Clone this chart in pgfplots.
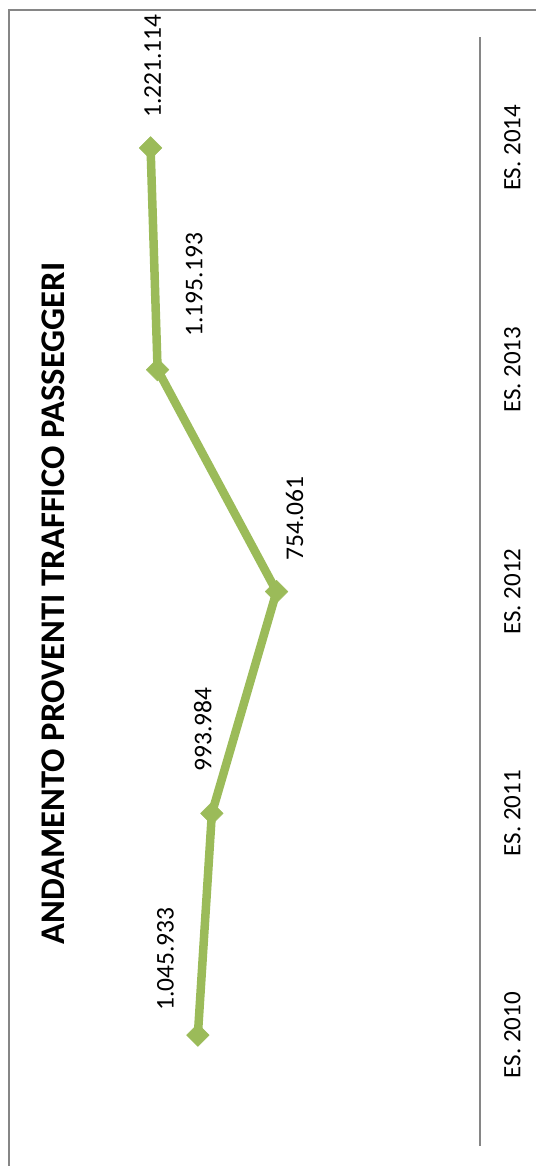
\documentclass[border=0pt]{standalone}
\usepackage{fontspec}
\setmainfont{Carlito}
\usepackage{pgfplots}
\pgfplotsset{compat=1.18}
\usepackage{pgfplotstable}
\definecolor{lgreen}{HTML}{9BBB59}
\definecolor{framegray}{HTML}{868686}
\pgfplotstableread{
x y lbl dx dy
1045933 0 1.045.933 -32.5 76
993984 1 993.984 -9 84
754061 2 754.061 18 73
1195193 3 1.195.193 36.5 85
1221114 4 1.221.114 2 82
}\datatable
\begin{document}
\begin{tikzpicture}[x=1pt,y=1pt]
\useasboundingbox (0,0) rectangle (535,1166);
\draw[line width=2pt, framegray] (9,-10) -- (9,1156) -- (545,1156);
\node[rotate=90, anchor=center, inner sep=0pt, font=\fontsize{34.6}{40}\selectfont\bfseries] at (53,562.5) {ANDAMENTO PROVENTI TRAFFICO PASSEGGERI};
\begin{axis}[
  at={(480pt,20pt)}, anchor=south east,
  scale only axis, width=460pt, height=1109pt,
  xmin=0, xmax=1705220, x dir=reverse,
  ymin=-0.5, ymax=4.5,
  axis x line=none, axis y line=right,
  y axis line style={-, draw=framegray, line width=1.2pt},
  ytick={0,1,2,3,4},
  yticklabels={ES. 2010, ES. 2011, ES. 2012, ES. 2013, ES. 2014},
  ytick style={draw=none}, major tick length=0pt,
  yticklabel style={xshift=24pt, rotate=90, anchor=north, inner sep=0pt, font=\fontsize{25}{30}\selectfont, text=black},
  clip=false,
]
\addplot[color=lgreen, line width=8.5pt, line join=round,
  mark=square*, mark size=8pt,
  mark options={rotate=45, line width=0.5pt, fill=lgreen, draw=lgreen},
  nodes near coords, point meta=explicit symbolic,
  visualization depends on={\thisrow{dx}\as\dx},
  visualization depends on={\thisrow{dy}\as\dy},
  every node near coord/.append style={xshift=\dx pt, yshift=\dy pt, rotate=90, anchor=center, inner sep=0pt, font=\fontsize{25.5}{30}\selectfont, text=black}
] table[x=x, y=y, meta=lbl] {\datatable};
\end{axis}
\end{tikzpicture}
\end{document}
